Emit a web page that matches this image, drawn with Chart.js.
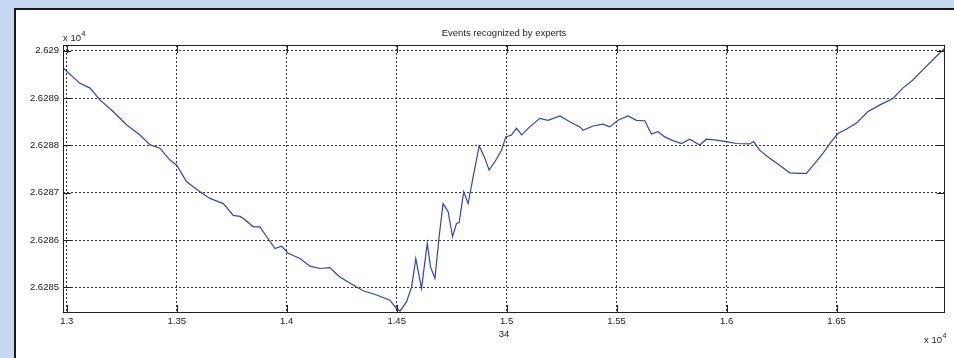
<!DOCTYPE html>
<html>
<head>
<meta charset="utf-8">
<script src="https://cdn.jsdelivr.net/npm/chart.js@4"></script>
<style>
  body { margin: 0; background: #c6d9f0; }
  canvas { display: block; }
</style>
</head>
<body>
<canvas id="eventsChart" width="954" height="358"></canvas>
<script>
// sample index along the recording (x axis, shown as x 10^4)
const sampleIdx = [
    12985, 13060, 13106, 13151, 13212, 13273, 13333, 13379, 13424, 13469,
    13500, 13545, 13606, 13651, 13712, 13757, 13788, 13802, 13848, 13878,
    13909, 13947, 13977, 14007, 14060, 14106, 14151, 14196, 14242, 14302,
    14348, 14409, 14469, 14500, 14515, 14545, 14568, 14587, 14613, 14639,
    14654, 14674, 14693, 14711, 14734, 14754, 14772, 14784, 14805, 14825,
    14848, 14875, 14901, 14920, 14946, 14977, 14996, 15022, 15045, 15068,
    15105, 15151, 15188, 15242, 15287, 15333, 15347, 15393, 15438, 15469,
    15506, 15552, 15590, 15628, 15658, 15688, 15719, 15756, 15795, 15832,
    15878, 15908, 15954, 15999, 16044, 16105, 16123, 16150, 16196, 16241,
    16287, 16332, 16363, 16393, 16438, 16476, 16506, 16544, 16590, 16642,
    16695, 16756, 16801, 16847, 16900, 16945, 16991
];

// measured level (y axis, shown as x 10^4)
const levels = [
    26289.63, 26289.31, 26289.21, 26288.96, 26288.71, 26288.43, 26288.22, 26288.01, 26287.94, 26287.69,
    26287.58, 26287.23, 26287.02, 26286.88, 26286.77, 26286.52, 26286.50, 26286.46, 26286.28, 26286.28,
    26286.07, 26285.82, 26285.87, 26285.72, 26285.61, 26285.45, 26285.40, 26285.42, 26285.22, 26285.05,
    26284.93, 26284.84, 26284.73, 26284.55, 26284.50, 26284.70, 26285.01, 26285.61, 26284.98, 26285.93,
    26285.43, 26285.19, 26286.07, 26286.77, 26286.60, 26286.07, 26286.35, 26286.37, 26287.02, 26286.77,
    26287.34, 26287.99, 26287.73, 26287.48, 26287.65, 26287.90, 26288.18, 26288.22, 26288.36, 26288.22,
    26288.39, 26288.57, 26288.53, 26288.62, 26288.50, 26288.39, 26288.32, 26288.41, 26288.45, 26288.39,
    26288.53, 26288.62, 26288.53, 26288.52, 26288.24, 26288.29, 26288.18, 26288.10, 26288.04, 26288.13,
    26288.01, 26288.13, 26288.11, 26288.08, 26288.04, 26288.03, 26288.08, 26287.90, 26287.73, 26287.58,
    26287.42, 26287.41, 26287.41, 26287.58, 26287.83, 26288.08, 26288.25, 26288.34, 26288.47, 26288.71,
    26288.85, 26288.99, 26289.21, 26289.38, 26289.63, 26289.84, 26290.05
];

// tick positions (labels are these divided by 10^4)
const xTicks = [13000, 13500, 14000, 14500, 15000, 15500, 16000, 16500];
const yTicks = [26285, 26286, 26287, 26288, 26289, 26290];

// axis limits
const xRange = [12983, 16993];
const yRange = [26284.46, 26290.12];

const FONT = "'Liberation Sans', Arial, sans-serif";
const textColor = "#222";

// tick labels are shown in units of 10^4, like the original plot
function sci(v) {
    return parseFloat((v / 1e4).toFixed(5)).toString();
}

// figure panel, boxed axes with inward ticks, exponent labels
const matlabFrame = {
    id: "matlabFrame",
    beforeDraw(chart) {
        const c = chart.ctx;
        c.save();
        c.fillStyle = "#c6d9f0";
        c.fillRect(0, 0, chart.width, chart.height);
        c.fillStyle = "#ffffff";
        c.fillRect(14, 8, chart.width - 14, chart.height - 8);
        c.strokeStyle = "#1a1a1a";
        c.lineWidth = 2;
        c.beginPath();
        c.moveTo(15, chart.height);
        c.lineTo(15, 9);
        c.lineTo(chart.width, 9);
        c.stroke();
        c.restore();
    },
    afterDatasetsDraw(chart) {
        const c = chart.ctx;
        const a = chart.chartArea;
        const { x, y } = chart.scales;
        const len = 8;
        c.save();
        c.strokeStyle = "#222";
        c.lineWidth = 1;
        c.strokeRect(a.left + 0.5, a.top + 0.5, a.right - a.left - 1, a.bottom - a.top - 1);
        c.beginPath();
        x.ticks.forEach(t => {
            const px = Math.round(x.getPixelForValue(t.value)) + 0.5;
            c.moveTo(px, a.bottom); c.lineTo(px, a.bottom - len);
            c.moveTo(px, a.top); c.lineTo(px, a.top + len);
        });
        y.ticks.forEach(t => {
            const py = Math.round(y.getPixelForValue(t.value)) + 0.5;
            c.moveTo(a.left, py); c.lineTo(a.left + len, py);
            c.moveTo(a.right, py); c.lineTo(a.right - len, py);
        });
        c.stroke();
        c.restore();
    },
    afterDraw(chart) {
        const c = chart.ctx;
        const a = chart.chartArea;
        const exp = (px, py) => {
            c.font = "9.5px " + FONT;
            c.textAlign = "left";
            c.textBaseline = "alphabetic";
            c.fillText("x 10", px, py);
            const w = c.measureText("x 10").width;
            c.font = "7px " + FONT;
            c.fillText("4", px + w + 0.5, py - 5);
        };
        c.save();
        c.fillStyle = textColor;
        exp(a.left, a.top - 4);
        exp(a.right - 21, 343);
        c.restore();
    }
};

const ctx = document.getElementById("eventsChart").getContext("2d");
const eventsChart = new Chart(ctx, {
    type: "line",
    data: {
        datasets: [{
            label: "Events recognized by experts",
            data: sampleIdx.map((s, i) => ({ x: s, y: levels[i] })),
            borderColor: "#2b45c8",
            borderWidth: 1.2,
            pointRadius: 0,
            tension: 0,
            fill: false
        }]
    },
    options: {
        responsive: false,
        animation: false,
        layout: { padding: { left: 0, right: 9, top: 0, bottom: 0 } },
        plugins: {
            legend: { display: false },
            tooltip: { enabled: false },
            title: {
                display: true,
                text: "Events recognized by experts",
                fullSize: false,
                color: textColor,
                font: { family: FONT, size: 9.5, weight: "normal" },
                padding: { top: 28, bottom: 5.6 }
            }
        },
        scales: {
            x: {
                type: "linear",
                min: xRange[0],
                max: xRange[1],
                afterFit(s) { s.height = 45; },
                afterBuildTicks(s) { s.ticks = xTicks.map(v => ({ value: v })); },
                ticks: {
                    autoSkip: false,
                    maxRotation: 0,
                    padding: 3,
                    color: textColor,
                    font: { family: FONT, size: 9.5 },
                    callback: v => sci(v)
                },
                grid: { color: "#333", lineWidth: 1, drawTicks: false },
                border: { display: false, dash: [2, 2] },
                title: {
                    display: true,
                    text: "34",
                    color: textColor,
                    font: { family: FONT, size: 9.5 },
                    padding: { top: 0, bottom: 18 }
                }
            },
            y: {
                min: yRange[0],
                max: yRange[1],
                afterFit(s) { s.width = 63; },
                afterBuildTicks(s) { s.ticks = yTicks.map(v => ({ value: v })); },
                ticks: {
                    padding: 4,
                    color: textColor,
                    font: { family: FONT, size: 9.5 },
                    callback: v => sci(v)
                },
                grid: { color: "#333", lineWidth: 1, drawTicks: false },
                border: { display: false, dash: [2, 2] }
            }
        }
    },
    plugins: [matlabFrame]
});
</script>
</body>
</html>
